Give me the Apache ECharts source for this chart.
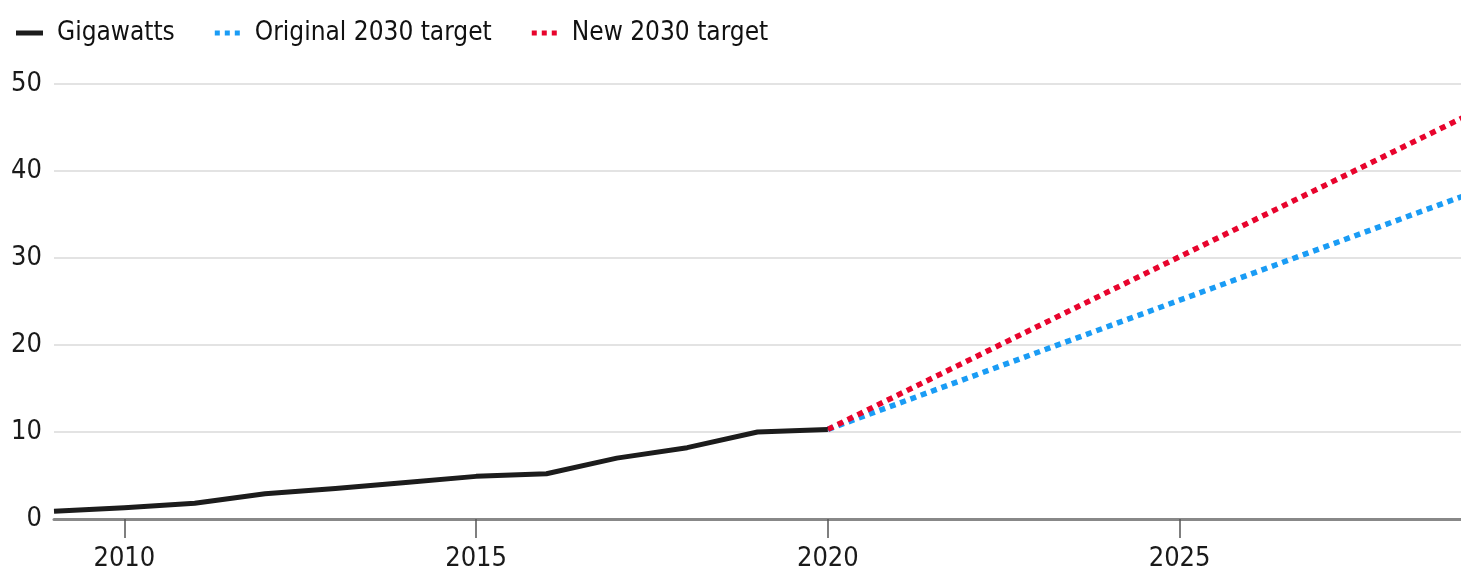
<!DOCTYPE html>
<html>
<head>
<meta charset="utf-8">
<script src="https://cdn.jsdelivr.net/npm/echarts@6/dist/echarts.min.js"></script>
<style>
  html, body { margin: 0; padding: 0; background: #fff; }
  #chart { width: 1461px; height: 572px; }
</style>
</head>
<body>
<div id="chart"></div>
<script>
// installed capacity, GW
const years = [2009, 2010, 2011, 2012, 2013, 2014, 2015, 2016, 2017, 2018, 2019, 2020];
const gigawatts = [0.9, 1.3, 1.8, 2.9, 3.5, 4.2, 4.9, 5.2, 7.0, 8.2, 10.0, 10.3];
const targetYears = [2020, 2030];
const originalTarget = [10.3, 40];
const newTarget = [10.3, 50];
const xTicks = [2010, 2015, 2020, 2025];

const font = '"Liberation Sans Narrow", "DejaVu Sans Condensed", sans-serif';
const dotted = 'path://M0,0h5v5h-5z M10,0h5v5h-5z M20,0h5v5h-5z';

const chart = echarts.init(document.getElementById('chart'));
const pair = (xs, ys) => xs.map((x, i) => [x, ys[i]]);

chart.setOption({
  animation: false,
  backgroundColor: '#fff',
  textStyle: { fontFamily: font },
  grid: { left: 54, right: 0, top: 84, bottom: 53 },
  legend: {
    left: 11,
    top: 15,
    itemWidth: 27,
    itemHeight: 5,
    itemGap: 40,
    textStyle: { fontFamily: font, fontSize: 26, color: '#111', padding: [0, 0, 0, 9] },
    data: [
      { name: 'Gigawatts', icon: 'rect' },
      { name: 'Original 2030 target', icon: dotted },
      { name: 'New 2030 target', icon: dotted }
    ]
  },
  xAxis: {
    type: 'value',
    min: 2009,
    max: 2029,
    axisLine: { show: true, lineStyle: { color: '#888', width: 3 } },
    axisTick: { show: true, customValues: xTicks, length: 19, lineStyle: { color: '#555', width: 1.5 } },
    axisLabel: {
      customValues: xTicks,
      formatter: v => String(v),
      fontSize: 27, color: '#1a1a1a', margin: 26, fontFamily: font
    },
    splitLine: { show: false }
  },
  yAxis: {
    type: 'value',
    min: 0,
    max: 50,
    interval: 10,
    axisLine: { show: false },
    axisTick: { show: false },
    axisLabel: { fontSize: 27, color: '#1a1a1a', margin: 12, fontFamily: font },
    splitLine: { lineStyle: { color: '#e3e3e3', width: 2 } }
  },
  series: [
    {
      name: 'Original 2030 target',
      type: 'line',
      data: pair(targetYears, originalTarget),
      symbol: 'none',
      color: '#1a9cf5',
      lineStyle: { width: 5.5, type: [6, 5], color: '#1a9cf5' },
      z: 2
    },
    {
      name: 'New 2030 target',
      type: 'line',
      data: pair(targetYears, newTarget),
      symbol: 'none',
      color: '#e8042d',
      lineStyle: { width: 5.5, type: [6, 5], color: '#e8042d' },
      z: 3
    },
    {
      name: 'Gigawatts',
      type: 'line',
      data: pair(years, gigawatts),
      symbol: 'none',
      color: '#1c1c1c',
      lineStyle: { width: 5, color: '#1c1c1c', join: 'round' },
      z: 4
    }
  ]
});
</script>
</body>
</html>
